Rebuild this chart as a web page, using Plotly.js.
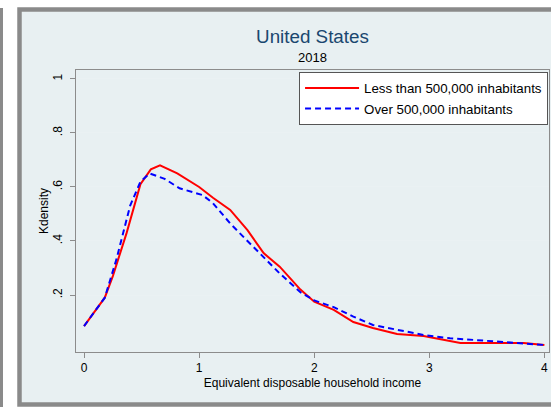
<!DOCTYPE html>
<html>
<head>
<meta charset="utf-8">
<script src="https://cdn.plot.ly/plotly-3.0.1.min.js"></script>
<style>
html,body{margin:0;padding:0;background:#ffffff;}
#chart{width:551px;height:407px;}
</style>
</head>
<body>
<div id="chart"></div>
<script>
// Data
var seriesNames = ["Less than 500,000 inhabitants", "Over 500,000 inhabitants"];

var xLess = [0, 0.18, 0.25, 0.37, 0.49, 0.58, 0.66, 0.81, 1.0, 1.12, 1.27, 1.42, 1.56, 1.7, 1.88, 2.0, 2.17, 2.34, 2.51, 2.72, 2.95, 3.12, 3.27, 3.53, 3.82, 4.0];
var yLess = [0.085, 0.19, 0.27, 0.43, 0.61, 0.665, 0.68, 0.65, 0.60, 0.56, 0.515, 0.44, 0.355, 0.305, 0.22, 0.175, 0.145, 0.10, 0.078, 0.056, 0.048, 0.033, 0.022, 0.022, 0.022, 0.015];

var xOver = [0, 0.18, 0.28, 0.40, 0.49, 0.57, 0.7, 0.83, 0.95, 1.03, 1.12, 1.27, 1.42, 1.56, 1.7, 1.88, 2.0, 2.17, 2.34, 2.51, 2.72, 2.95, 3.18, 3.42, 3.64, 4.0];
var yOver = [0.085, 0.19, 0.33, 0.53, 0.62, 0.65, 0.63, 0.595, 0.58, 0.57, 0.54, 0.465, 0.40, 0.34, 0.28, 0.21, 0.18, 0.155, 0.12, 0.089, 0.07, 0.052, 0.04, 0.033, 0.026, 0.015];

var xTickVals = [0, 1, 2, 3, 4];
var xTickText = ["0", "1", "2", "3", "4"];
var yTickVals = [0.2, 0.4, 0.6, 0.8, 1];
var yTickText = [".2", ".4", ".6", ".8", "1"];

var titleText = "United States";
var subtitleText = "2018";
var xTitle = "Equivalent disposable household income";
var yTitle = "Kdensity";

var FONT = "Liberation Sans, Arial, Helvetica, sans-serif";
var BG = "#e8f0f2";
var BORDER = "#8a8a8a";
var AXIS = "#8c8c8c";

var traces = [
  {x: xLess, y: yLess, name: seriesNames[0], type: "scatter", mode: "lines",
   line: {color: "#ff0000", width: 2}},
  {x: xOver, y: yOver, name: seriesNames[1], type: "scatter", mode: "lines",
   line: {color: "#0000ff", width: 2, dash: "6px,4px"}}
];

var layout = {
  width: 551, height: 407,
  margin: {l: 76, r: 2, t: 70, b: 55, pad: 0},
  paper_bgcolor: "#ffffff",
  plot_bgcolor: "#ffffff",
  font: {family: FONT, color: "#000000", size: 12},
  showlegend: true,
  title: {text: titleText, font: {family: FONT, size: 18.8, color: "#1a476f"},
          x: 0.5, xref: "paper", xanchor: "center", y: 1 - 36/407, yref: "container", yanchor: "middle"},
  xaxis: {
    range: [-0.07, 4.04], tickvals: xTickVals, ticktext: xTickText,
    ticks: "outside", ticklen: 5, tickcolor: AXIS, tickwidth: 1,
    showline: true, mirror: true, linecolor: AXIS, linewidth: 1,
    showgrid: false, zeroline: false,
    tickfont: {family: FONT, size: 12, color: "#000"},
    title: {text: xTitle, font: {family: FONT, size: 12, color: "#000"}, standoff: 4}
  },
  yaxis: {
    range: [-0.011, 1.033], tickvals: yTickVals, ticktext: yTickText,
    ticks: "outside", ticklen: 5, tickcolor: AXIS, tickwidth: 1, tickangle: -90,
    ticklabelstandoff: 3,
    showline: true, mirror: true, linecolor: AXIS, linewidth: 1,
    showgrid: true, gridcolor: "#eaf1f3", gridwidth: 1, zeroline: false,
    tickfont: {family: FONT, size: 12, color: "#000"}
  },
  legend: {
    x: 0.998, xanchor: "right", y: 0.993, yanchor: "top",
    bgcolor: "#ffffff", bordercolor: "#555555", borderwidth: 1,
    font: {family: FONT, size: 13.3, color: "#000"},
    tracegroupgap: 0, itemwidth: 54
  },
  annotations: [
    {text: subtitleText, xref: "paper", yref: "paper", x: 0.5, y: (352-57)/282,
     xanchor: "center", yanchor: "middle", showarrow: false,
     font: {family: FONT, size: 13, color: "#000"}},
    {text: yTitle, xref: "paper", yref: "paper", x: (44-76)/473, y: 0.5,
     xanchor: "center", yanchor: "middle", textangle: -90, showarrow: false,
     font: {family: FONT, size: 12, color: "#000"}}
  ],
  shapes: [
    // left neighbour panel edge
    {type: "rect", xref: "paper", yref: "paper", layer: "below",
     x0: (0-76)/473, x1: (3-76)/473, y0: (352-407)/282, y1: (352-8)/282,
     fillcolor: BORDER, line: {width: 0}},
    // graph region background + border
    {type: "rect", xref: "paper", yref: "paper", layer: "below",
     x0: (19.5-76)/473, x1: (556-76)/473, y0: (352-404.5)/282, y1: (352-9.5)/282,
     fillcolor: BG, line: {color: BORDER, width: 4.5}}
  ]
};

Plotly.newPlot("chart", traces, layout, {displayModeBar: false, staticPlot: true});
</script>
</body>
</html>
